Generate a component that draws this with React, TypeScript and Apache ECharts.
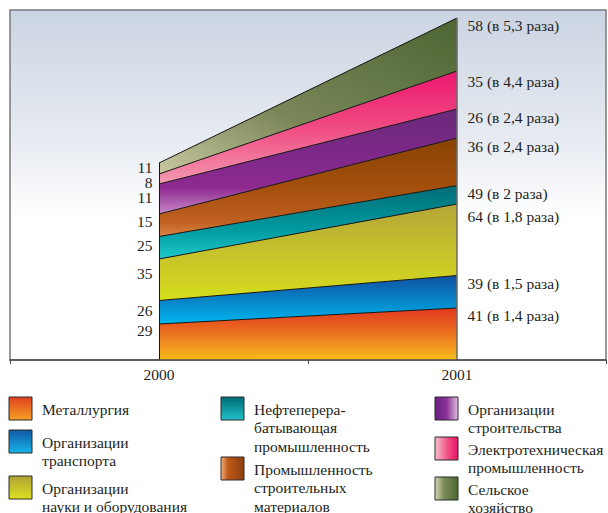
import React, { useEffect, useRef } from "react";
import * as echarts from "echarts";

// ---- data ----
const categories = ["2000", "2001"];
const seriesNames = [
  "Металлургия",
  "Организации транспорта",
  "Организации науки и оборудования",
  "Нефтеперерабатывающая промышленность",
  "Промышленность строительных материалов",
  "Организации строительства",
  "Электротехническая промышленность",
  "Сельское хозяйство",
];
const legendLines = [
  ["Металлургия"],
  ["Организации", "транспорта"],
  ["Организации", "науки и оборудования"],
  ["Нефтеперера-", "батывающая", "промышленность"],
  ["Промышленность", "строительных", "материалов"],
  ["Организации", "строительства"],
  ["Электротехническая", "промышленность"],
  ["Сельское", "хозяйство"],
];
// labelled values
const values2000 = [29, 26, 35, 25, 15, 11, 8, 11];
const values2001 = [41, 39, 64, 49, 36, 26, 35, 58];
const growth2001 = ["1,4", "1,5", "1,8", "2", "2,4", "2,4", "4,4", "5,3"];
// band thicknesses as drawn in the picture (schematic scale)
const drawn2000 = [36, 23.5, 41.5, 22.5, 22.5, 30, 10, 11];
const drawn2001 = [52, 32.5, 71.5, 18.5, 47.5, 29, 38, 53];

// ---- styles / layout ----
const FONT = "Liberation Serif";
const FS = 15.5;
const TEXT = "#231f20";
const labelDy2000 = [6.7, 10.3, 14.7, 9.3, 7.5, 13.2, 8.7, 4.7];
const labelDy2001 = [7.7, 8.3, 12, 8.3, 8.2, 8.2, 10, 7.7];

const lg = (x: number, y: number, x2: number, y2: number, stops: [number, string][]) => ({
  type: "linear",
  x,
  y,
  x2,
  y2,
  colorStops: stops.map(([offset, color]) => ({ offset, color })),
});

const areaFills = [
  lg(0, 0, 0, 1, [[0, "#e0381e"], [0.35, "#e8601e"], [0.7, "#f09020"], [1, "#f8bc18"]]),
  lg(0, 0, 0, 1, [[0, "#1050a0"], [1, "#00b6ee"]]),
  lg(0, 0, 0, 1, [[0, "#b5a63a"], [1, "#d6de1c"]]),
  lg(0, 0, 0, 1, [[0, "#006c76"], [0.6, "#009aa0"], [1, "#1ec8cc"]]),
  lg(0, 0, 0, 1, [[0, "#874305"], [0.5, "#a44f0c"], [0.85, "#c06020"], [1, "#dc8444"]]),
  lg(0, 0, 0, 1, [[0, "#682a78"], [0.4, "#7c2888"], [0.75, "#8e2a90"], [1, "#c888c8"]]),
  lg(0, 0, 0, 1, [[0, "#ec1870"], [0.5, "#f04a82"], [1, "#f49ab0"]]),
  lg(0, 1, 1, 0, [[0, "#c8c8a0"], [0.4, "#7a8658"], [1, "#4c6632"]]),
];
const swatchFills = [
  lg(0, 0, 0, 1, [[0, "#e0401e"], [1, "#f6a024"]]),
  lg(0, 0, 0, 1, [[0, "#1058a4"], [1, "#18b4ea"]]),
  lg(0, 0, 0, 1, [[0, "#b0a234"], [1, "#dce022"]]),
  lg(0, 0, 0, 1, [[0, "#006a74"], [1, "#20c0c8"]]),
  lg(0, 0, 1, 0, [[0, "#f0b080"], [0.3, "#c05818"], [1, "#8a4010"]]),
  lg(0, 0, 1, 0, [[0, "#6a2080"], [0.5, "#8a3098"], [1, "#e0c0e0"]]),
  lg(0, 0, 1, 0, [[0, "#f8c4cc"], [0.5, "#f05a88"], [1, "#e8106a"]]),
  lg(0, 0, 1, 0, [[0, "#d8d8b0"], [0.4, "#7a8a58"], [1, "#4a6a30"]]),
];
const legendPos = [
  [9, 397], [9, 430], [9, 476],
  [221, 397], [221, 457],
  [435, 397], [435, 437], [435, 477],
];

export default function App() {
  const ref = useRef<HTMLDivElement>(null);
  useEffect(() => {
    if (!ref.current) return;
    const chart = echarts.init(ref.current, undefined, { renderer: "svg" });
    const total2000 = drawn2000.reduce((a, b) => a + b, 0);
    const total2001 = drawn2001.reduce((a, b) => a + b, 0);

    const series: any[] = seriesNames.map((name, i) => ({
      name,
      type: "line",
      stack: "total",
      symbol: "circle",
      symbolSize: 1,
      showSymbol: true,
      itemStyle: { color: "rgba(0,0,0,0)", borderWidth: 0 },
      smooth: false,
      lineStyle: { color: "#141414", width: 1 },
      areaStyle: { color: areaFills[i], opacity: 1 },
      label: { show: true, fontFamily: FONT, fontSize: FS, color: TEXT, lineHeight: 13 },
      z: 2,
      data: [
        {
          value: drawn2000[i],
          label: {
            show: true,
            position: [-6, 0.5 + labelDy2000[i]],
            align: "right",
            verticalAlign: "middle",
            formatter: String(values2000[i]),
            fontFamily: FONT,
            fontSize: FS,
            lineHeight: 13,
            color: TEXT,
          },
        },
        {
          value: drawn2001[i],
          label: {
            show: true,
            position: [11, 0.5 + labelDy2001[i]],
            align: "left",
            verticalAlign: "middle",
            formatter: `${values2001[i]} (в ${growth2001[i]} раза)`,
            fontFamily: FONT,
            fontSize: FS,
            lineHeight: 13,
            color: TEXT,
          },
        },
      ],
    }));
    series[series.length - 1].markLine = {
      silent: true,
      symbol: "none",
      label: { show: false },
      animation: false,
      data: [
        [
          { coord: [categories[0], 0], lineStyle: { color: "#141414", width: 1, type: "solid" } },
          { coord: [categories[0], total2000] },
        ],
        [
          { coord: [categories[1], 0], lineStyle: { color: "#6a6a6a", width: 1.5, type: "solid" } },
          { coord: [categories[1], total2001] },
        ],
      ],
    };

    const graphic: any[] = [];
    legendLines.forEach((lines, i) => {
      const [x, y] = legendPos[i];
      graphic.push({
        type: "rect",
        shape: { x, y, width: 23, height: 23 },
        style: { fill: swatchFills[i], stroke: "#2a2a2a", lineWidth: 1 },
      });
      graphic.push({
        type: "text",
        x: x + 33,
        y: y + 3,
        style: {
          text: lines.join("\n"),
          fontFamily: FONT,
          fontSize: FS,
          lineHeight: 18.5,
          fill: TEXT,
          verticalAlign: "top",
          align: "left",
        },
      });
    });

    chart.setOption({
      animation: false,
      textStyle: { fontFamily: FONT },
      grid: {
        left: 10,
        right: 2,
        top: 10,
        bottom: 153,
        show: true,
        borderColor: "#7a7a7e",
        borderWidth: 1.5,
        backgroundColor: lg(0, 0, 0, 1, [
          [0, "#cbd4e2"],
          [0.38, "#e8ecf2"],
          [0.6, "#ffffff"],
          [1, "#ffffff"],
        ]),
      },
      xAxis: {
        type: "category",
        data: categories,
        boundaryGap: true,
        axisLine: { lineStyle: { color: "#4a4a4a", width: 1.5 } },
        axisTick: { show: true, length: 4, lineStyle: { color: "#4a4a4a" } },
        axisLabel: { fontFamily: FONT, fontSize: FS, color: TEXT, margin: 6 },
        splitLine: { show: false },
        z: 5,
      },
      yAxis: {
        type: "value",
        min: 0,
        max: 350,
        show: false,
        splitLine: { show: false },
      },
      series,
      graphic,
    });
    return () => chart.dispose();
  }, []);
  return (
    <div
      ref={ref}
      style={{ position: "fixed", left: 0, top: 0, width: 608, height: 513, background: "#ffffff" }}
    />
  );
}
